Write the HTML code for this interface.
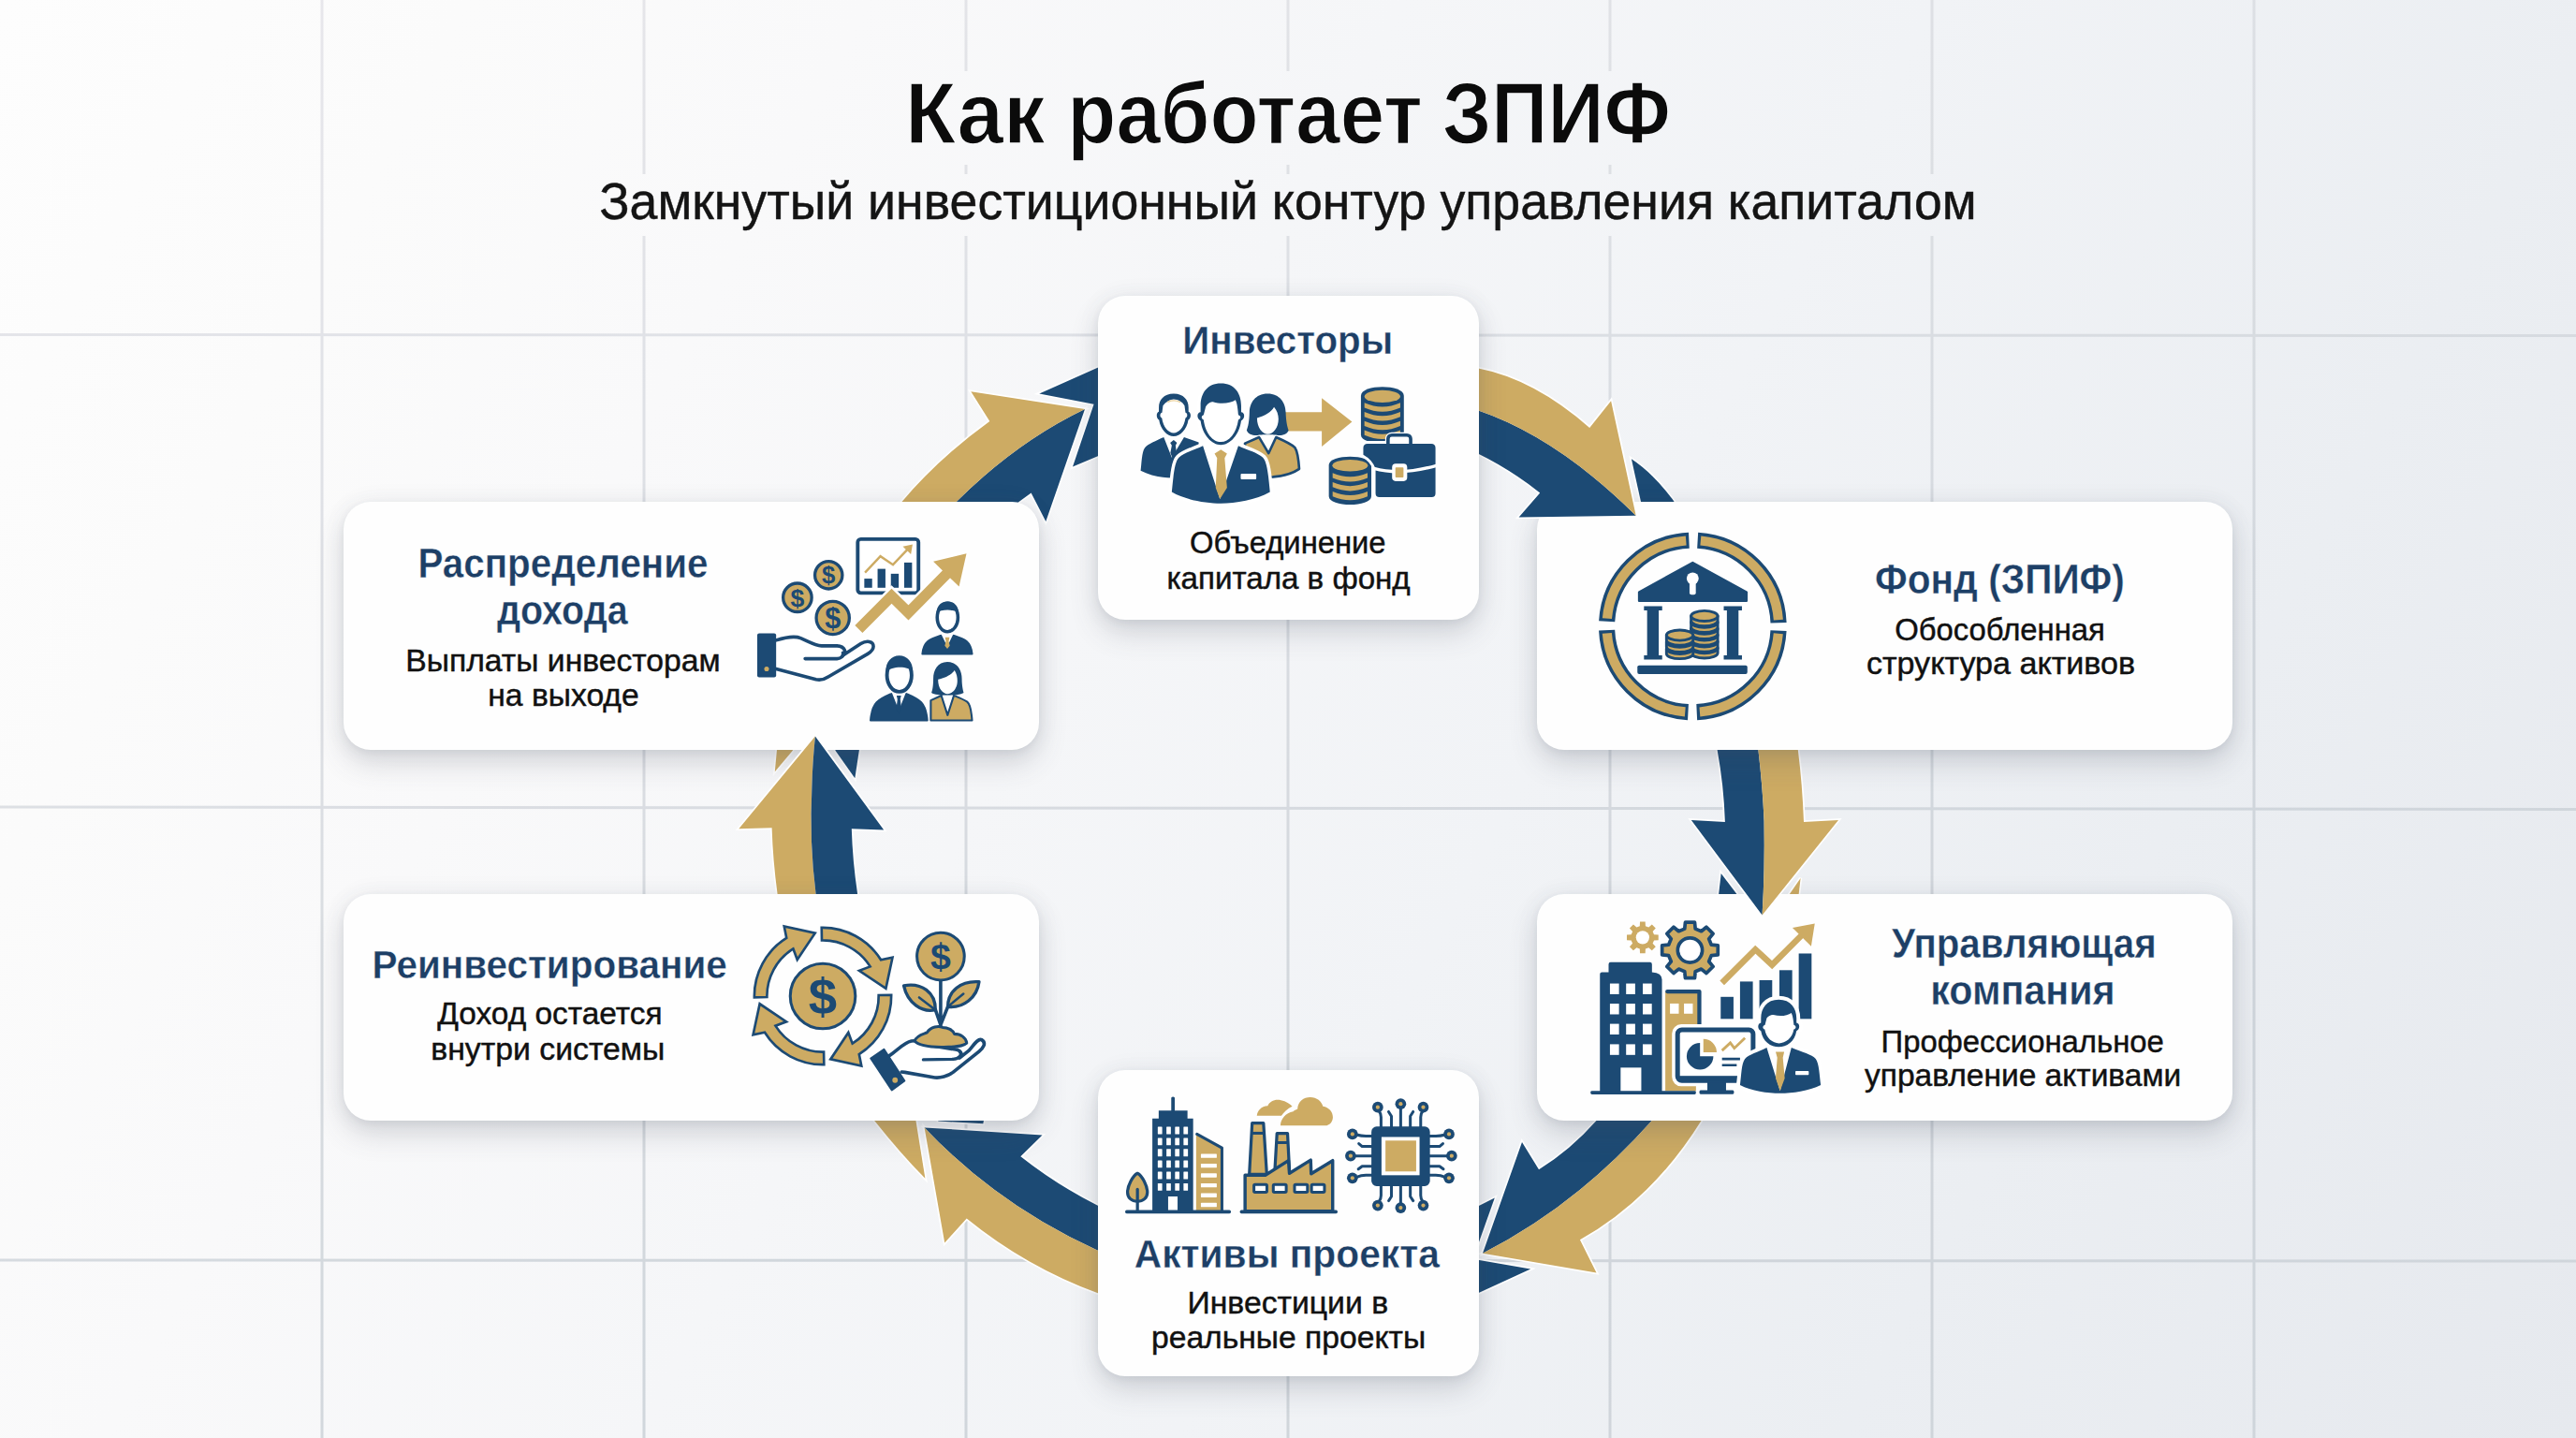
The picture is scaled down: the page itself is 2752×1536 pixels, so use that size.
<!DOCTYPE html>
<html lang="ru">
<head>
<meta charset="utf-8">
<title>Как работает ЗПИФ</title>
<style>
html,body{margin:0;padding:0;}
body{width:2752px;height:1536px;overflow:hidden;background:#f3f5f8;font-family:"Liberation Sans",sans-serif;}
#stage{position:relative;width:2752px;height:1536px;overflow:hidden;
  background:linear-gradient(118deg,#fdfdfd 0%,#fbfbfb 14%,#f9f9fa 26%,#f5f6f8 42%,#f1f3f6 58%,#ebeef2 78%,#e6e9ee 100%);}
.layer{position:absolute;left:0;top:0;width:2752px;height:1536px;pointer-events:none;overflow:visible;}
.card{position:absolute;background:#fefefe;border-radius:29px;
  box-shadow:0 15px 30px rgba(75,80,95,0.19),0 3px 8px rgba(75,80,95,0.07),0 0 26px rgba(75,80,95,0.06);}
svg text{font-family:"Liberation Sans",sans-serif;}
</style>
</head>
<body>
<div id="stage">

<!-- background grid -->
<svg class="layer" style="z-index:0" width="2752" height="1536" viewBox="0 0 2752 1536">
  <defs><linearGradient id="gl" gradientUnits="userSpaceOnUse" x1="0" y1="0" x2="500" y2="1536"><stop offset="0" stop-color="#e7e6eb"/><stop offset="0.5" stop-color="#dadde2"/><stop offset="1" stop-color="#cdd3d9"/></linearGradient></defs>
  <g stroke="url(#gl)" stroke-width="3" opacity="0.9" fill="none">
    <path d="M344 0V1536M2408 0V1536"/>
    <path d="M688 0V186M688 252V1536M2064 0V186M2064 252V1536"/>
    <path d="M1032 0V76M1032 176V186M1032 252V1536"/>
    <path d="M1376 0V76M1376 176V186M1376 252V1536"/>
    <path d="M1720 0V76M1720 176V186M1720 252V1536"/>
    <path d="M0 357.5L2752 358.5M0 862L2752 864.5M0 1346L2752 1347"/>
  </g>
</svg>

<svg class="layer" style="z-index:1" width="2752" height="1536" viewBox="0 0 2752 1536">
<g fill="#ffffff" stroke="#ffffff" stroke-width="3.4" stroke-linejoin="miter">
<path d="M1110.3 420.4L1190 385L1190 480L1146 498.6L1168.6 431.7Z"/>
</g><g>
<path fill="#1c4a74" d="M1110.3 420.4L1190 385L1190 480L1146 498.6L1168.6 431.7Z"/>
</g>
<g fill="#ffffff" stroke="#ffffff" stroke-width="3.4" stroke-linejoin="miter">
<path d="M1159 437L1117.3 556.9L1101.6 526.4L1072 548L1000 560L1021.7 536Q1086 472 1159 437Z"/>
<path d="M963.5 536Q1002 490 1057.3 450L1037.3 418.3L1159 437Q1086 472 1021.7 536L1000 560L945 560Z"/>
</g><g>
<path fill="#1c4a74" d="M1159 437L1117.3 556.9L1101.6 526.4L1072 548L1000 560L1021.7 536Q1086 472 1159 437Z"/>
<path fill="#cdab63" d="M963.5 536Q1002 490 1057.3 450L1037.3 418.3L1159 437Q1086 472 1021.7 536L1000 560L945 560Z"/>
</g>
<g fill="#ffffff" stroke="#ffffff" stroke-width="3.4" stroke-linejoin="miter">
<path d="M1596.8 1279.5L1560 1298L1560 1383Z"/>
</g><g>
<path fill="#1c4a74" d="M1596.8 1279.5L1560 1298L1560 1383Z"/>
</g>
<g fill="#ffffff" stroke="#ffffff" stroke-width="3.4" stroke-linejoin="miter">
<path d="M1560 1342.5L1635.2 1355.5L1560 1390Z"/>
</g><g>
<path fill="#1c4a74" d="M1560 1342.5L1635.2 1355.5L1560 1390Z"/>
</g>
<g fill="#ffffff" stroke="#ffffff" stroke-width="3.4" stroke-linejoin="miter">
<path d="M1716 1185L1705.5 1197Q1677.2 1228.9 1644 1249.2L1626 1219.9L1584 1338.7Q1683.9 1288 1764.7 1197L1775 1185Z"/>
<path d="M1775 1185L1764.7 1197Q1683.9 1288 1584 1338.7L1705.5 1359.5L1687.9 1324.3Q1765.5 1280.7 1817.5 1197L1824 1185Z"/>
</g><g>
<path fill="#1c4a74" d="M1716 1185L1705.5 1197Q1677.2 1228.9 1644 1249.2L1626 1219.9L1584 1338.7Q1683.9 1288 1764.7 1197L1775 1185Z"/>
<path fill="#cdab63" d="M1775 1185L1764.7 1197Q1683.9 1288 1584 1338.7L1705.5 1359.5L1687.9 1324.3Q1765.5 1280.7 1817.5 1197L1824 1185Z"/>
</g>
<g fill="#ffffff" stroke="#ffffff" stroke-width="3.4" stroke-linejoin="miter">
<path d="M925 1185L976.5 1185L988.4 1258.8Q962 1232 934.4 1197.2Z"/>
</g><g>
<path fill="#cdab63" d="M925 1185L976.5 1185L988.4 1258.8Q962 1232 934.4 1197.2Z"/>
</g>
<g fill="#ffffff" stroke="#ffffff" stroke-width="3.4" stroke-linejoin="miter">
<path d="M1002 1192L1052 1192L1050.3 1200.2L1002.3 1197.5Z"/>
</g><g>
<path fill="#1c4a74" d="M1002 1192L1052 1192L1050.3 1200.2L1002.3 1197.5Z"/>
</g>
<g fill="#ffffff" stroke="#ffffff" stroke-width="3.4" stroke-linejoin="miter">
<path d="M1195 1298L1172.3 1287.5Q1128.6 1265.4 1090.3 1235.2L1113.5 1212.4L987.6 1204.4Q1065.4 1286.9 1172.3 1335.5L1195 1345Z"/>
<path d="M987.6 1204.4L1009.2 1327.5L1032.7 1301.5Q1095.7 1352.8 1172.3 1381.1L1195 1389L1195 1345L1172.3 1335.5Q1065.4 1286.9 987.6 1204.4Z"/>
</g><g>
<path fill="#1c4a74" d="M1195 1298L1172.3 1287.5Q1128.6 1265.4 1090.3 1235.2L1113.5 1212.4L987.6 1204.4Q1065.4 1286.9 1172.3 1335.5L1195 1345Z"/>
<path fill="#cdab63" d="M987.6 1204.4L1009.2 1327.5L1032.7 1301.5Q1095.7 1352.8 1172.3 1381.1L1195 1389L1195 1345L1172.3 1335.5Q1065.4 1286.9 987.6 1204.4Z"/>
</g>
<g fill="#ffffff" stroke="#ffffff" stroke-width="3.4" stroke-linejoin="miter">
<path d="M831 790L848.5 790L846.8 801.7L827.8 824.2Z"/>
</g><g>
<path fill="#cdab63" d="M831 790L848.5 790L846.8 801.7L827.8 824.2Z"/>
</g>
<g fill="#ffffff" stroke="#ffffff" stroke-width="3.4" stroke-linejoin="miter">
<path d="M891 790L919 790L917.8 801.7L913.3 831.2L892.5 801.7Z"/>
</g><g>
<path fill="#1c4a74" d="M891 790L919 790L917.8 801.7L913.3 831.2L892.5 801.7Z"/>
</g>
<g fill="#ffffff" stroke="#ffffff" stroke-width="3.4" stroke-linejoin="miter">
<path d="M1838.7 933L1835 965L1863 965Z"/>
</g><g>
<path fill="#1c4a74" d="M1838.7 933L1835 965L1863 965Z"/>
</g>
<g fill="#ffffff" stroke="#ffffff" stroke-width="3.4" stroke-linejoin="miter">
<path d="M1923.6 937.9L1920.5 965L1905 965Z"/>
</g><g>
<path fill="#cdab63" d="M1923.6 937.9L1920.5 965L1905 965Z"/>
</g>
<g fill="#ffffff" stroke="#ffffff" stroke-width="3.4" stroke-linejoin="miter">
<path d="M1742.9 490.3Q1770 508 1795 545L1755 545Z"/>
</g><g>
<path fill="#1c4a74" d="M1742.9 490.3Q1770 508 1795 545L1755 545Z"/>
</g>
</svg>
<svg class="layer" style="z-index:3" width="2752" height="1536" viewBox="0 0 2752 1536">
<g fill="#ffffff" stroke="#ffffff" stroke-width="3.4" stroke-linejoin="miter">
<path d="M1833.5 785L1834.6 801Q1841.5 838 1842.9 878L1806.8 876L1882.6 977.5Q1885.5 930 1884.6 877Q1883 840 1878.4 801L1877 785Z"/>
<path d="M1877 785L1878.4 801Q1883 840 1884.6 877Q1885.5 930 1882.6 977.5L1964 876L1927 878Q1925.5 838 1920.8 801L1919 785Z"/>
</g><g>
<path fill="#1c4a74" d="M1833.5 785L1834.6 801Q1841.5 838 1842.9 878L1806.8 876L1882.6 977.5Q1885.5 930 1884.6 877Q1883 840 1878.4 801L1877 785Z"/>
<path fill="#cdab63" d="M1877 785L1878.4 801Q1883 840 1884.6 877Q1885.5 930 1882.6 977.5L1964 876L1927 878Q1925.5 838 1920.8 801L1919 785Z"/>
</g>
<g fill="#ffffff" stroke="#ffffff" stroke-width="3.4" stroke-linejoin="miter">
<path d="M870.9 786.4L789.3 885.2L824.6 884.3Q825.7 919.2 830.6 955L832 970L873 970L871.6 955Q864.5 900 867.4 839.5Q868 815 870.9 786.4Z"/>
<path d="M870.9 786.4Q868 815 867.4 839.5Q864.5 900 871.6 955L873 970L918 970L916.1 955Q910.8 919.2 909.8 885.2L944.2 886.5Z"/>
</g><g>
<path fill="#cdab63" d="M870.9 786.4L789.3 885.2L824.6 884.3Q825.7 919.2 830.6 955L832 970L873 970L871.6 955Q864.5 900 867.4 839.5Q868 815 870.9 786.4Z"/>
<path fill="#1c4a74" d="M870.9 786.4Q868 815 867.4 839.5Q864.5 900 871.6 955L873 970L918 970L916.1 955Q910.8 919.2 909.8 885.2L944.2 886.5Z"/>
</g>
</svg>
<svg class="layer" style="z-index:5" width="2752" height="1536" viewBox="0 0 2752 1536">
<g fill="#ffffff" stroke="#ffffff" stroke-width="3.4" stroke-linejoin="miter">
<path d="M1560 430L1579.4 438.6Q1663.5 467.3 1747.7 550.8L1622.6 552.5L1645.2 526.4Q1613 501 1579.4 484.7L1560 476Z"/>
<path d="M1560 386L1579.4 393.5Q1639 405 1698.2 456.9L1721.1 428.2L1747.7 550.8Q1663.5 467.3 1579.4 438.6L1560 430Z"/>
</g><g>
<path fill="#1c4a74" d="M1560 430L1579.4 438.6Q1663.5 467.3 1747.7 550.8L1622.6 552.5L1645.2 526.4Q1613 501 1579.4 484.7L1560 476Z"/>
<path fill="#cdab63" d="M1560 386L1579.4 393.5Q1639 405 1698.2 456.9L1721.1 428.2L1747.7 550.8Q1663.5 467.3 1579.4 438.6L1560 430Z"/>
</g>
</svg>
<!-- cards -->
<div class="card" style="z-index:6;left:1173px;top:316px;width:406.5px;height:346px;"></div>
<div class="card" style="z-index:4;left:1642px;top:536px;width:743px;height:265px;"></div>
<div class="card" style="z-index:2;left:1642px;top:955px;width:743px;height:242px;"></div>
<div class="card" style="z-index:2;left:1172.5px;top:1143px;width:407px;height:327px;"></div>
<div class="card" style="z-index:4;left:367px;top:955px;width:743px;height:242px;"></div>
<div class="card" style="z-index:2;left:367px;top:536px;width:743px;height:265px;"></div>

<svg class="layer" style="z-index:8" width="2752" height="1536" viewBox="0 0 2752 1536">
<defs><linearGradient id="bgx" gradientUnits="userSpaceOnUse" x1="0" y1="0" x2="2752" y2="0"><stop offset="0" stop-color="#fcfcfc"/><stop offset="0.35" stop-color="#f8f9fa"/><stop offset="0.65" stop-color="#f3f4f7"/><stop offset="1" stop-color="#eceff3"/></linearGradient></defs>
<text id="t0" y="152.8" font-size="92.5" font-weight="bold" fill="#0b0b0b" stroke="url(#bgx)" stroke-width="1.5"><tspan x="967.1" textLength="149.6" lengthAdjust="spacingAndGlyphs">Как</tspan> <tspan x="1140.3" textLength="379.6" lengthAdjust="spacingAndGlyphs">работает</tspan> <tspan x="1541.0" textLength="243.8" lengthAdjust="spacingAndGlyphs">ЗПИФ</tspan></text>
<text id="t1" x="640.2" y="233.6" font-size="55" font-weight="normal" fill="#141414" stroke="#141414" stroke-width="0.45" textLength="1471.5" lengthAdjust="spacingAndGlyphs">Замкнутый инвестиционный контур управления капиталом</text>
<text id="t2" x="1263.3" y="377.7" font-size="43" font-weight="bold" fill="#1d3f66" stroke="#fefefe" stroke-width="0.35" textLength="224.8" lengthAdjust="spacingAndGlyphs">Инвесторы</text>
<text id="t3" x="1271.1" y="591.0" font-size="33" font-weight="normal" fill="#111" stroke="#111" stroke-width="0.45" textLength="209.5" lengthAdjust="spacingAndGlyphs">Объединение</text>
<text id="t4" x="1246.4" y="628.9" font-size="33" font-weight="normal" fill="#111" stroke="#111" stroke-width="0.45" textLength="260.3" lengthAdjust="spacingAndGlyphs">капитала в фонд</text>
<text id="t5" x="2003.1" y="633.5" font-size="43.5" font-weight="bold" fill="#1d3f66" stroke="#fefefe" stroke-width="0.35" textLength="266.7" lengthAdjust="spacingAndGlyphs">Фонд (ЗПИФ)</text>
<text id="t6" x="2024.3" y="683.8" font-size="33" font-weight="normal" fill="#111" stroke="#111" stroke-width="0.45" textLength="224.5" lengthAdjust="spacingAndGlyphs">Обособленная</text>
<text id="t7" x="1993.9" y="720.4" font-size="33" font-weight="normal" fill="#111" stroke="#111" stroke-width="0.45" textLength="287.2" lengthAdjust="spacingAndGlyphs">структура активов</text>
<text id="t8" x="2020.9" y="1023.1" font-size="43.5" font-weight="bold" fill="#1d3f66" stroke="#fefefe" stroke-width="0.35" textLength="282.8" lengthAdjust="spacingAndGlyphs">Управляющая</text>
<text id="t9" x="2062.2" y="1073.4" font-size="43.5" font-weight="bold" fill="#1d3f66" stroke="#fefefe" stroke-width="0.35" textLength="197.4" lengthAdjust="spacingAndGlyphs">компания</text>
<text id="t10" x="2009.6" y="1123.7" font-size="33" font-weight="normal" fill="#111" stroke="#111" stroke-width="0.45" textLength="302.2" lengthAdjust="spacingAndGlyphs">Профессиональное</text>
<text id="t11" x="1992.0" y="1160.3" font-size="33" font-weight="normal" fill="#111" stroke="#111" stroke-width="0.45" textLength="338.2" lengthAdjust="spacingAndGlyphs">управление активами</text>
<text id="t12" x="1211.8" y="1354.2" font-size="43" font-weight="bold" fill="#1d3f66" stroke="#fefefe" stroke-width="0.35" textLength="326.0" lengthAdjust="spacingAndGlyphs">Активы проекта</text>
<text id="t13" x="1268.5" y="1403.1" font-size="33" font-weight="normal" fill="#111" stroke="#111" stroke-width="0.45" textLength="214.6" lengthAdjust="spacingAndGlyphs">Инвестиции в</text>
<text id="t14" x="1230.0" y="1439.8" font-size="33" font-weight="normal" fill="#111" stroke="#111" stroke-width="0.45" textLength="293.1" lengthAdjust="spacingAndGlyphs">реальные проекты</text>
<text id="t15" x="397.4" y="1045.0" font-size="43" font-weight="bold" fill="#1d3f66" stroke="#fefefe" stroke-width="0.35" textLength="379.5" lengthAdjust="spacingAndGlyphs">Реинвестирование</text>
<text id="t16" x="467.3" y="1094.4" font-size="33" font-weight="normal" fill="#111" stroke="#111" stroke-width="0.45" textLength="240.2" lengthAdjust="spacingAndGlyphs">Доход остается</text>
<text id="t17" x="460.2" y="1132.0" font-size="33" font-weight="normal" fill="#111" stroke="#111" stroke-width="0.45" textLength="250.2" lengthAdjust="spacingAndGlyphs">внутри системы</text>
<text id="t18" x="446.4" y="616.9" font-size="43.5" font-weight="bold" fill="#1d3f66" stroke="#fefefe" stroke-width="0.35" textLength="310.1" lengthAdjust="spacingAndGlyphs">Распределение</text>
<text id="t19" x="530.9" y="667.1" font-size="43.5" font-weight="bold" fill="#1d3f66" stroke="#fefefe" stroke-width="0.35" textLength="139.8" lengthAdjust="spacingAndGlyphs">дохода</text>
<text id="t20" x="433.3" y="716.7" font-size="33" font-weight="normal" fill="#111" stroke="#111" stroke-width="0.45" textLength="336.4" lengthAdjust="spacingAndGlyphs">Выплаты инвесторам</text>
<text id="t21" x="521.3" y="754.3" font-size="33" font-weight="normal" fill="#111" stroke="#111" stroke-width="0.45" textLength="161.4" lengthAdjust="spacingAndGlyphs">на выходе</text>
</svg>
<!-- card 1 icons: investors -> capital -->
<svg class="layer" style="z-index:8" width="2752" height="1536" viewBox="0 0 2752 1536">
  <!-- gold arrow -->
  <path fill="#cdab63" d="M1371 440.3H1412.1V425.2L1444.4 450.4L1412.1 477.1V460.5H1371Z"/>
  <!-- people group (authored in 9.916x zoom coords) -->
  <g transform="translate(1210 400) scale(0.10085)">
    <!-- left man -->
    <path fill="#1c4a74" d="M330 665C250 700 160 740 130 775C95 820 95 950 85 1020C180 1070 300 1095 420 1095L700 1095L700 720L545 665L415 880Z"/>
    <path fill="#1c4a74" d="M435 695L470 725L455 750L465 830L420 880L400 830L415 750L398 725Z"/>
    <path fill="#1c4a74" d="M435 203C540 203 592 270 592 350L592 395C622 400 622 470 590 480C575 580 505 655 435 655C365 655 295 580 280 480C248 470 248 400 278 395L278 350C278 270 330 203 435 203Z"/>
    <path fill="#ffffff" d="M312 405L322 330C350 290 400 262 435 262C480 262 530 290 550 330L560 405C585 410 585 455 560 462C545 560 490 620 435 620C380 620 325 560 310 462C285 455 287 410 312 405Z"/>
    <path fill="none" stroke="#e7cf9a" stroke-width="14" stroke-linecap="round" d="M375 290Q440 262 500 292"/>
    <!-- woman -->
    <path fill="#cdab63" stroke="#1c4a74" stroke-width="26" stroke-linejoin="round" d="M1340 665L1190 730L1190 1095L1490 1085C1600 1075 1700 1045 1765 1000C1758 900 1748 815 1720 775C1680 735 1600 700 1520 665L1440 835Z"/>
    <path fill="#1c4a74" d="M1430 203C1560 203 1620 300 1622 400C1625 500 1640 560 1652 590C1640 640 1560 655 1520 640L1340 640C1300 655 1222 640 1208 590C1222 560 1236 500 1238 400C1240 300 1300 203 1430 203Z"/>
    <path fill="#ffffff" d="M1318 460C1400 440 1470 400 1498 345C1530 380 1545 430 1545 470C1545 560 1490 632 1432 632C1375 632 1318 560 1318 460Z"/>
    <path fill="#ffffff" d="M1372 640L1492 640L1440 790Z"/>
    <!-- main man -->
    <g stroke="#ffffff" stroke-width="70" stroke-linejoin="round">
      <path fill="#ffffff" d="M745 755C650 800 540 830 490 880C440 930 430 1100 415 1245C560 1330 780 1365 935 1365C1090 1365 1310 1330 1455 1245C1440 1100 1430 930 1380 880C1330 830 1220 800 1120 755Z"/>
      <path fill="#ffffff" d="M935 95C1080 95 1150 200 1150 330L1150 400C1190 400 1195 470 1150 490C1130 640 1030 745 935 745C840 745 740 640 720 490C675 470 680 400 720 400L720 330C720 200 790 95 935 95Z"/>
    </g>
    <path fill="#1c4a74" d="M745 755C650 800 540 830 490 880C440 930 430 1100 415 1245C560 1330 780 1365 935 1365C1090 1365 1310 1330 1455 1245C1440 1100 1430 930 1380 880C1330 830 1220 800 1120 755L925 1320Z"/>
    <path fill="#cdab63" d="M935 795L1000 838L975 885L1000 1200L925 1320L880 1200L895 885L868 838Z"/>
    <rect x="1145" y="1050" width="165" height="60" rx="10" fill="#ffffff"/>
    <path fill="#1c4a74" d="M935 95C1080 95 1150 200 1150 330L1150 400C1190 400 1195 470 1150 490C1130 640 1030 745 935 745C840 745 740 640 720 490C675 470 680 400 720 400L720 330C720 200 790 95 935 95Z"/>
    <path fill="#ffffff" d="M752 430L775 340C800 300 830 290 850 290C950 320 1040 300 1090 270C1110 310 1115 380 1120 430C1150 440 1150 470 1120 480C1100 620 1020 715 935 715C850 715 770 620 752 480C725 470 725 440 752 430Z"/>
  </g>
  <!-- coins + briefcase (authored in 9.92x zoom coords) -->
  <g transform="translate(1400 400) scale(0.1008)">
    <!-- top coin stack -->
    <path fill="#1c4a74" d="M535 225C535 100 990 100 990 225L990 640C990 760 535 760 535 640Z"/>
    <ellipse cx="762" cy="232" rx="190" ry="66" fill="#cdab63"/>
    <path fill="#cdab63" d="M572 300Q762 385 952 300L952 352Q762 437 572 352Z"/>
    <path fill="#cdab63" d="M572 397Q762 482 952 397L952 449Q762 534 572 449Z"/>
    <path fill="#cdab63" d="M572 494Q762 579 952 494L952 546Q762 631 572 546Z"/>
    <path fill="#cdab63" d="M572 591Q762 676 952 591L952 643Q762 728 572 643Z"/>
    <!-- bottom coin stack -->
    <path fill="#1c4a74" d="M195 960C195 840 645 840 645 960L645 1290C645 1410 195 1410 195 1290Z"/>
    <ellipse cx="420" cy="965" rx="188" ry="62" fill="#cdab63"/>
    <path fill="#cdab63" d="M235 1045Q420 1125 605 1045L605 1097Q420 1177 235 1097Z"/>
    <path fill="#cdab63" d="M235 1142Q420 1222 605 1142L605 1194Q420 1274 235 1194Z"/>
    <path fill="#cdab63" d="M235 1239Q420 1319 605 1239L605 1291Q420 1371 235 1291Z"/>
    <!-- briefcase -->
    <g stroke="#ffffff" stroke-width="60" stroke-linejoin="round" fill="#ffffff">
      <path d="M605 735L1280 735Q1325 735 1325 780L1325 1260Q1325 1300 1285 1300L730 1300Q690 1300 690 1260L690 1000Q660 905 560 850L560 780Q560 735 605 735Z"/>
      <rect x="822" y="642" width="240" height="120" rx="40"/>
    </g>
    <rect x="822" y="642" width="240" height="140" rx="40" fill="none" stroke="#1c4a74" stroke-width="36"/>
    <path fill="#1c4a74" d="M605 735L1280 735Q1325 735 1325 780L1325 1260Q1325 1300 1285 1300L730 1300Q690 1300 690 1260L690 1000Q660 905 560 850L560 780Q560 735 605 735Z"/>
    <path fill="none" stroke="#ffffff" stroke-width="34" d="M672 995Q960 1075 1335 965"/>
    <rect x="865" y="945" width="160" height="185" rx="38" fill="#ffffff"/>
    <rect x="900" y="985" width="86" height="106" rx="8" fill="#cdab63"/>
  </g>
</svg>

<!-- card 2 icon: fund (bank in ring) -->
<svg class="layer" style="z-index:8" width="2752" height="1536" viewBox="0 0 2752 1536">
<g transform="translate(1700 560) scale(0.153)">
<circle cx="708" cy="712" r="600" fill="none" stroke="#1c4a74" stroke-width="112" stroke-dasharray="880.5 62" stroke-dashoffset="-31.0"/>
<circle cx="708" cy="712" r="600" fill="none" stroke="#cdab63" stroke-width="66" stroke-dasharray="838.5 104" stroke-dashoffset="-52.0"/>
<path fill="#1c4a74" stroke="#1c4a74" stroke-width="16" stroke-linejoin="round" d="M708 268L1084 474L1084 534L334 534L334 474Z"/>
<circle cx="708" cy="378" r="42" fill="#fff"/><rect x="686" y="378" width="44" height="114" rx="14" fill="#fff"/>
<path fill="#1c4a74" d="M368 572H495V602H471V915H495V945H368V915H390V602H368Z"/>
<path fill="#1c4a74" d="M925 572H1052V602H1028V915H1052V945H925V915H947V602H925Z"/>
<rect x="322" y="985" width="768" height="60" rx="12" fill="#1c4a74"/>
<path fill="#cdab63" stroke="#1c4a74" stroke-width="19" stroke-linejoin="round" d="M697 865L697 899A93 36 0 0 0 883 899L883 865Z"/><ellipse cx="790" cy="865" rx="93" ry="36" fill="#cdab63" stroke="#1c4a74" stroke-width="19"/>
<path fill="#cdab63" stroke="#1c4a74" stroke-width="19" stroke-linejoin="round" d="M697 820L697 854A93 36 0 0 0 883 854L883 820Z"/><ellipse cx="790" cy="820" rx="93" ry="36" fill="#cdab63" stroke="#1c4a74" stroke-width="19"/>
<path fill="#cdab63" stroke="#1c4a74" stroke-width="19" stroke-linejoin="round" d="M697 775L697 809A93 36 0 0 0 883 809L883 775Z"/><ellipse cx="790" cy="775" rx="93" ry="36" fill="#cdab63" stroke="#1c4a74" stroke-width="19"/>
<path fill="#cdab63" stroke="#1c4a74" stroke-width="19" stroke-linejoin="round" d="M697 730L697 764A93 36 0 0 0 883 764L883 730Z"/><ellipse cx="790" cy="730" rx="93" ry="36" fill="#cdab63" stroke="#1c4a74" stroke-width="19"/>
<path fill="#cdab63" stroke="#1c4a74" stroke-width="19" stroke-linejoin="round" d="M697 685L697 719A93 36 0 0 0 883 719L883 685Z"/><ellipse cx="790" cy="685" rx="93" ry="36" fill="#cdab63" stroke="#1c4a74" stroke-width="19"/>
<path fill="#cdab63" stroke="#1c4a74" stroke-width="19" stroke-linejoin="round" d="M697 640L697 674A93 36 0 0 0 883 674L883 640Z"/><ellipse cx="790" cy="640" rx="93" ry="36" fill="#cdab63" stroke="#1c4a74" stroke-width="19"/>
<path fill="#cdab63" stroke="#1c4a74" stroke-width="19" stroke-linejoin="round" d="M525 869L525 903A93 36 0 0 0 711 903L711 869Z"/><ellipse cx="618" cy="869" rx="93" ry="36" fill="#cdab63" stroke="#1c4a74" stroke-width="19"/>
<path fill="#cdab63" stroke="#1c4a74" stroke-width="19" stroke-linejoin="round" d="M525 822L525 856A93 36 0 0 0 711 856L711 822Z"/><ellipse cx="618" cy="822" rx="93" ry="36" fill="#cdab63" stroke="#1c4a74" stroke-width="19"/>
<path fill="#cdab63" stroke="#1c4a74" stroke-width="19" stroke-linejoin="round" d="M525 775L525 809A93 36 0 0 0 711 809L711 775Z"/><ellipse cx="618" cy="775" rx="93" ry="36" fill="#cdab63" stroke="#1c4a74" stroke-width="19"/>
</g></svg>
<!-- card 3 icon: management company -->
<svg class="layer" style="z-index:8" width="2752" height="1536" viewBox="0 0 2752 1536">
<g transform="translate(1690 975) scale(0.14255)">
<path fill="#cdab63" d="M540.4 163.6L573.3 165.1L573.3 204.9L540.4 206.4L530.5 230.2L552.8 254.6L524.6 282.8L500.2 260.5L476.4 270.4L474.9 303.3L435.1 303.3L433.6 270.4L409.8 260.5L385.4 282.8L357.2 254.6L379.5 230.2L369.6 206.4L336.7 204.9L336.7 165.1L369.6 163.6L379.5 139.8L357.2 115.4L385.4 87.2L409.8 109.5L433.6 99.6L435.1 66.7L474.9 66.7L476.4 99.6L500.2 109.5L524.6 87.2L552.8 115.4L530.5 139.8Z"/><circle cx="455" cy="185" r="50" fill="#fff"/>
<path fill="#cdab63" d="M970.1 239.9L1019.1 244.8L1019.1 315.2L970.1 320.1L951.5 364.8L982.7 402.9L932.9 452.7L894.8 421.5L850.1 440.1L845.2 489.1L774.8 489.1L769.9 440.1L725.2 421.5L687.1 452.7L637.3 402.9L668.5 364.8L649.9 320.1L600.9 315.2L600.9 244.8L649.9 239.9L668.5 195.2L637.3 157.1L687.1 107.3L725.2 138.5L769.9 119.9L774.8 70.9L845.2 70.9L850.1 119.9L894.8 138.5L932.9 107.3L982.7 157.1L951.5 195.2Z" stroke="#1c4a74" stroke-width="26" stroke-linejoin="round"/><circle cx="810" cy="280" r="92" fill="#fff" stroke="#1c4a74" stroke-width="26"/>
<rect x="625" y="590" width="255" height="745" fill="#cdab63"/>
<path fill="none" stroke="#1c4a74" stroke-width="30" stroke-linejoin="round" stroke-linecap="round" d="M640 590H880V1335"/>
<rect x="660" y="680" width="66" height="76" fill="#fff"/><rect x="765" y="680" width="66" height="76" fill="#fff"/>
<path fill="#1c4a74" d="M135 1340V460Q135 445 150 445H200V385Q200 370 215 370H510Q525 370 525 385V445Q600 450 600 500V1340Z"/>
<rect x="210" y="530" width="68" height="80" fill="#fff"/>
<rect x="210" y="681" width="68" height="80" fill="#fff"/>
<rect x="210" y="832" width="68" height="80" fill="#fff"/>
<rect x="210" y="985" width="68" height="80" fill="#fff"/>
<rect x="331" y="530" width="68" height="80" fill="#fff"/>
<rect x="331" y="681" width="68" height="80" fill="#fff"/>
<rect x="331" y="832" width="68" height="80" fill="#fff"/>
<rect x="331" y="985" width="68" height="80" fill="#fff"/>
<rect x="456" y="530" width="68" height="80" fill="#fff"/>
<rect x="456" y="681" width="68" height="80" fill="#fff"/>
<rect x="456" y="832" width="68" height="80" fill="#fff"/>
<rect x="456" y="985" width="68" height="80" fill="#fff"/>
<rect x="290" y="1160" width="155" height="180" fill="#fff"/>
<rect x="65" y="1334" width="790" height="27" rx="10" fill="#1c4a74"/>
<rect x="1040" y="630" width="96" height="165" fill="#1c4a74"/>
<rect x="1185" y="515" width="96" height="280" fill="#1c4a74"/>
<rect x="1330" y="505" width="96" height="290" fill="#1c4a74"/>
<rect x="1480" y="430" width="96" height="365" fill="#1c4a74"/>
<rect x="1625" y="305" width="96" height="490" fill="#1c4a74"/>
<path fill="none" stroke="#cdab63" stroke-width="46" stroke-linejoin="miter" d="M1050 525L1300 275L1425 390L1650 165"/>
<path fill="#cdab63" d="M1745 80L1578 112L1718 250Z"/>
<g stroke="#fff" stroke-width="50" fill="#fff" stroke-linejoin="round"><rect x="700" y="860" width="600" height="415" rx="45"/><rect x="880" y="1280" width="260" height="80"/></g>
<path fill="#1c4a74" d="M940 1270H1080V1330H1130Q1140 1330 1140 1345T1130 1360H890Q880 1360 880 1345T890 1330H940Z"/>
<rect x="717" y="877" width="566" height="381" rx="32" fill="#fff" stroke="#1c4a74" stroke-width="35"/>
<rect x="717" y="1222" width="566" height="36" fill="#1c4a74"/>
<path fill="#1c4a74" d="M885 1075V975A100 100 0 1 0 985 1075Z"/>
<path fill="#cdab63" d="M910 1045V945A100 100 0 0 1 1010 1045Z"/>
<path fill="none" stroke="#cdab63" stroke-width="20" d="M1050 1032L1112 975L1142 1015L1222 938"/>
<path fill="none" stroke="#1c4a74" stroke-width="18" d="M1050 1095H1185M1050 1142H1160"/>
<g stroke="#fff" stroke-width="56" fill="#fff" stroke-linejoin="round"><path d="M1385 1010C1320 1045 1250 1060 1222 1095C1195 1130 1195 1220 1185 1290C1270 1335 1390 1352 1485 1352C1580 1352 1700 1335 1790 1290C1780 1220 1778 1130 1752 1095C1725 1060 1650 1045 1570 1010Z"/><path d="M1475 650C1565 650 1608 715 1608 790L1608 825C1635 828 1637 875 1608 885C1595 965 1535 1005 1475 1005C1415 1005 1355 965 1342 885C1313 875 1315 828 1342 825L1342 790C1342 715 1385 650 1475 650Z"/></g>
<path fill="#1c4a74" d="M1385 1010C1320 1045 1250 1060 1222 1095C1195 1130 1195 1220 1185 1290C1270 1335 1390 1352 1485 1352C1580 1352 1700 1335 1790 1290C1780 1220 1778 1130 1752 1095C1725 1060 1650 1045 1570 1010L1485 1335Z"/>
<path fill="#cdab63" d="M1452 1042H1516L1506 1085L1520 1240L1485 1335L1452 1240L1464 1085Z"/>
<rect x="1600" y="1185" width="100" height="30" rx="5" fill="#fff"/>
<path fill="#1c4a74" d="M1475 650C1565 650 1608 715 1608 790L1608 825C1635 828 1637 875 1608 885C1595 965 1535 1005 1475 1005C1415 1005 1355 965 1342 885C1313 875 1315 828 1342 825L1342 790C1342 715 1385 650 1475 650Z"/>
<path fill="#fff" d="M1372 840L1385 790C1400 770 1420 762 1435 765C1490 780 1540 770 1570 750C1582 775 1585 810 1588 840C1608 846 1608 868 1588 874C1578 940 1525 978 1477 978C1430 978 1380 940 1370 874C1352 868 1352 846 1372 840Z"/>
</g></svg>
<!-- card 4 icons: buildings, factory, chip -->
<svg class="layer" style="z-index:8" width="2752" height="1536" viewBox="0 0 2752 1536">
<g transform="translate(1195 1160) scale(0.10085)">
<path fill="#cdab63" stroke="#1c4a74" stroke-width="32" stroke-linejoin="round" d="M200 925C250 950 305 1060 305 1125C305 1185 260 1222 200 1222C140 1222 95 1185 95 1125C95 1060 150 950 200 925Z"/>
<path stroke="#1c4a74" stroke-width="32" stroke-linecap="round" d="M200 1095V1320"/>
<path fill="#cdab63" d="M822 505L1100 650V1320H822Z"/>
<path fill="none" stroke="#1c4a74" stroke-width="30" stroke-linejoin="round" stroke-linecap="round" d="M830 510L1095 655V1320"/>
<rect x="872" y="718" width="168" height="44" rx="6" fill="#fff"/>
<rect x="872" y="822" width="168" height="44" rx="6" fill="#fff"/>
<rect x="872" y="925" width="168" height="44" rx="6" fill="#fff"/>
<rect x="872" y="1030" width="168" height="44" rx="6" fill="#fff"/>
<rect x="872" y="1135" width="168" height="44" rx="6" fill="#fff"/>
<rect x="872" y="1238" width="168" height="44" rx="6" fill="#fff"/>
<path fill="#1c4a74" d="M558 125Q576 105 595 125V260H730V345H790V1325H358V345H425V260H558Z"/>
<rect x="415" y="432" width="47" height="78" rx="5" fill="#fff"/>
<rect x="415" y="550" width="47" height="78" rx="5" fill="#fff"/>
<rect x="415" y="668" width="47" height="78" rx="5" fill="#fff"/>
<rect x="415" y="788" width="47" height="78" rx="5" fill="#fff"/>
<rect x="415" y="908" width="47" height="78" rx="5" fill="#fff"/>
<rect x="415" y="1030" width="47" height="78" rx="5" fill="#fff"/>
<rect x="507" y="432" width="47" height="78" rx="5" fill="#fff"/>
<rect x="507" y="550" width="47" height="78" rx="5" fill="#fff"/>
<rect x="507" y="668" width="47" height="78" rx="5" fill="#fff"/>
<rect x="507" y="788" width="47" height="78" rx="5" fill="#fff"/>
<rect x="507" y="908" width="47" height="78" rx="5" fill="#fff"/>
<rect x="507" y="1030" width="47" height="78" rx="5" fill="#fff"/>
<rect x="598" y="432" width="47" height="78" rx="5" fill="#fff"/>
<rect x="598" y="550" width="47" height="78" rx="5" fill="#fff"/>
<rect x="598" y="668" width="47" height="78" rx="5" fill="#fff"/>
<rect x="598" y="788" width="47" height="78" rx="5" fill="#fff"/>
<rect x="598" y="908" width="47" height="78" rx="5" fill="#fff"/>
<rect x="598" y="1030" width="47" height="78" rx="5" fill="#fff"/>
<rect x="688" y="432" width="47" height="78" rx="5" fill="#fff"/>
<rect x="688" y="550" width="47" height="78" rx="5" fill="#fff"/>
<rect x="688" y="668" width="47" height="78" rx="5" fill="#fff"/>
<rect x="688" y="788" width="47" height="78" rx="5" fill="#fff"/>
<rect x="688" y="908" width="47" height="78" rx="5" fill="#fff"/>
<rect x="688" y="1030" width="47" height="78" rx="5" fill="#fff"/>
<rect x="525" y="1170" width="100" height="155" fill="#fff"/>
<rect x="70" y="1315" width="1120" height="35" rx="16" fill="#1c4a74"/>
<path fill="#cdab63" stroke="#1c4a74" stroke-width="32" stroke-linejoin="round" d="M1385 935L1415 392H1535L1570 935Z"/>
<path stroke="#1c4a74" stroke-width="30" d="M1410 500H1540"/>
<path fill="#cdab63" stroke="#1c4a74" stroke-width="32" stroke-linejoin="round" d="M1655 900L1678 502H1790L1810 900Z"/>
<path stroke="#1c4a74" stroke-width="30" d="M1672 600H1796"/>
<path fill="#cdab63" stroke="#1c4a74" stroke-width="34" stroke-linejoin="round" d="M1340 1325V945H1555L1800 790L1810 925L2035 785L2040 930L2268 790V1325Z"/>
<rect x="1434" y="1044" width="137" height="82" rx="12" fill="#fff" stroke="#1c4a74" stroke-width="30"/>
<rect x="1639" y="1044" width="137" height="82" rx="12" fill="#fff" stroke="#1c4a74" stroke-width="30"/>
<rect x="1864" y="1044" width="137" height="82" rx="12" fill="#fff" stroke="#1c4a74" stroke-width="30"/>
<rect x="2044" y="1044" width="137" height="82" rx="12" fill="#fff" stroke="#1c4a74" stroke-width="30"/>
<rect x="1285" y="1315" width="1035" height="35" rx="16" fill="#1c4a74"/>
<path fill="#cdab63" d="M1465 315C1470 260 1510 215 1580 210C1600 160 1660 135 1720 150C1775 160 1815 190 1840 215C1790 240 1750 275 1725 315Z"/>
<path fill="#cdab63" d="M1715 420C1715 350 1770 285 1850 270C1870 250 1885 250 1895 245C1900 160 1960 118 2030 118C2100 118 2150 160 2165 215C2230 225 2270 275 2270 330C2270 380 2235 420 2190 420Z"/>
</g>
<g transform="translate(1430 1160) scale(0.10087)">
<g fill="none" stroke="#1c4a74" stroke-width="30" stroke-linecap="round" stroke-linejoin="round">
<path d="M450 440V330Q450 290 425 260M870 440V330Q870 290 895 260M658 440V230M560 440V320L530 272M760 440V320L790 272"/>
<path d="M450 1050V1160Q450 1200 425 1230M870 1050V1160Q870 1200 895 1230M658 1050V1250M560 1050V1170L532 1215M760 1050V1170L790 1215"/>
<path d="M360 530H290Q240 530 190 515M360 945H290Q240 945 190 965M360 740H170M360 640H250L215 610M360 850H250L210 880"/>
<path d="M960 530H1030Q1080 530 1130 515M960 945H1030Q1080 945 1130 965M960 740H1150M960 640H1070L1105 610M960 850H1070L1110 880"/>
</g>
<circle cx="415" cy="225" r="58" fill="#1c4a74"/><circle cx="415" cy="225" r="21" fill="#cdab63"/>
<circle cx="658" cy="190" r="58" fill="#1c4a74"/><circle cx="658" cy="190" r="21" fill="#cdab63"/>
<circle cx="897" cy="225" r="58" fill="#1c4a74"/><circle cx="897" cy="225" r="21" fill="#cdab63"/>
<circle cx="415" cy="1265" r="58" fill="#1c4a74"/><circle cx="415" cy="1265" r="21" fill="#cdab63"/>
<circle cx="658" cy="1290" r="58" fill="#1c4a74"/><circle cx="658" cy="1290" r="21" fill="#cdab63"/>
<circle cx="897" cy="1265" r="58" fill="#1c4a74"/><circle cx="897" cy="1265" r="21" fill="#cdab63"/>
<circle cx="147" cy="510" r="58" fill="#1c4a74"/><circle cx="147" cy="510" r="21" fill="#cdab63"/>
<circle cx="128" cy="740" r="58" fill="#1c4a74"/><circle cx="128" cy="740" r="21" fill="#cdab63"/>
<circle cx="147" cy="975" r="58" fill="#1c4a74"/><circle cx="147" cy="975" r="21" fill="#cdab63"/>
<circle cx="1170" cy="510" r="58" fill="#1c4a74"/><circle cx="1170" cy="510" r="21" fill="#cdab63"/>
<circle cx="1198" cy="740" r="58" fill="#1c4a74"/><circle cx="1198" cy="740" r="21" fill="#cdab63"/>
<circle cx="1170" cy="975" r="58" fill="#1c4a74"/><circle cx="1170" cy="975" r="21" fill="#cdab63"/>
<rect x="348" y="430" width="620" height="630" rx="55" fill="#1c4a74"/>
<rect x="455" y="540" width="403" height="405" fill="#fff"/>
<rect x="497" y="578" width="325" height="327" fill="#cdab63"/>
</g></svg>
<!-- card 5 icons: reinvest cycle + plant -->
<svg class="layer" style="z-index:8" width="2752" height="1536" viewBox="0 0 2752 1536">
<g transform="translate(790 975) scale(0.1391)">
<path fill="#cdab63" stroke="#1c4a74" stroke-width="19" stroke-linejoin="miter" d="M114.1 649.2A526 526 0 0 1 361.3 193.9L343.3 104.7L580.5 155.6L443.8 359.9L412.7 276.2A429 429 0 0 0 211.1 647.5Z"/>
<path fill="#cdab63" stroke="#1c4a74" stroke-width="19" stroke-linejoin="miter" d="M630.8 114.1A526 526 0 0 1 1086.1 361.3L1175.3 343.3L1124.4 580.5L920.1 443.8L1003.8 412.7A429 429 0 0 0 632.5 211.1Z"/>
<path fill="#cdab63" stroke="#1c4a74" stroke-width="19" stroke-linejoin="miter" d="M1165.9 630.8A526 526 0 0 1 918.7 1086.1L936.7 1175.3L699.5 1124.4L836.2 920.1L867.3 1003.8A429 429 0 0 0 1068.9 632.5Z"/>
<path fill="#cdab63" stroke="#1c4a74" stroke-width="19" stroke-linejoin="miter" d="M649.2 1165.9A526 526 0 0 1 193.9 918.7L104.7 936.7L155.6 699.5L359.9 836.2L276.2 867.3A429 429 0 0 0 647.5 1068.9Z"/>
<circle cx="640" cy="640" r="250" fill="#cdab63" stroke="#1c4a74" stroke-width="22"/>
<text x="640" y="776" text-anchor="middle" font-size="392" font-weight="bold" fill="#1c4a74">$</text>
<path fill="none" stroke="#1c4a74" stroke-width="26" stroke-linecap="round" d="M1545 520V880M1545 860L1505 745M1545 860L1600 722"/>
<path fill="#cdab63" stroke="#1c4a74" stroke-width="24" stroke-linejoin="round" d="M1262 560C1400 535 1505 610 1505 745C1400 770 1290 690 1262 560Z"/>
<path fill="#cdab63" stroke="#1c4a74" stroke-width="24" stroke-linejoin="round" d="M1840 530C1700 520 1600 600 1600 722C1720 735 1825 650 1840 530Z"/>
<path fill="none" stroke="#1c4a74" stroke-width="18" stroke-linecap="round" d="M1380 650L1500 742M1720 622L1604 718"/>
<circle cx="1545" cy="335" r="182" fill="#cdab63" stroke="#1c4a74" stroke-width="22"/>
<text x="1545" y="432" text-anchor="middle" font-size="282" font-weight="bold" fill="#1c4a74">$</text>
<path fill="#fff" stroke="#1c4a74" stroke-width="26" stroke-linejoin="round" stroke-linecap="round" d="M1150 1098L1175 1080C1230 1040 1270 995 1320 985C1380 975 1430 1000 1480 1020L1660 1050C1700 1055 1720 1090 1690 1115L1760 1060C1790 1030 1830 960 1860 975C1900 1000 1870 1040 1840 1065L1640 1225C1600 1255 1540 1270 1500 1265L1270 1225L1245 1222"/>
<path fill="none" stroke="#1c4a74" stroke-width="24" stroke-linecap="round" d="M1412 1128L1640 1124C1690 1120 1712 1090 1692 1066"/>
<path fill="#cdab63" stroke="#1c4a74" stroke-width="22" stroke-linejoin="round" d="M1345 985C1360 940 1420 930 1440 920C1470 872 1530 868 1560 880C1600 880 1640 900 1650 930C1700 930 1740 960 1745 1000C1700 1045 1400 1045 1345 985Z"/>
<path fill="#1c4a74" stroke="#1c4a74" stroke-width="14" stroke-linejoin="round" d="M1008 1118L1110 1048L1268 1290L1170 1362Z"/>
<circle cx="1195" cy="1285" r="21" fill="#cdab63"/>
</g></svg>
<!-- card 6 icons: payouts -->
<svg class="layer" style="z-index:8" width="2752" height="1536" viewBox="0 0 2752 1536">
<g transform="translate(800 565) scale(0.14952)">
<rect x="778" y="73" width="434" height="384" rx="22" fill="#fff" stroke="#1c4a74" stroke-width="26"/>
<rect x="825" y="355" width="56" height="65" fill="#1c4a74"/>
<rect x="920" y="285" width="56" height="135" fill="#1c4a74"/>
<rect x="1015" y="320" width="56" height="100" fill="#1c4a74"/>
<rect x="1110" y="240" width="56" height="180" fill="#1c4a74"/>
<path fill="none" stroke="#cdab63" stroke-width="16" stroke-linejoin="miter" d="M830 312L940 195L1030 255L1140 140"/>
<path fill="#cdab63" d="M1170 110L1100 125L1158 180Z"/>
<path fill="none" stroke="#fff" stroke-width="110" stroke-linejoin="miter" d="M785 715L1020 480L1140 598L1420 315"/>
<path fill="#fff" stroke="#fff" stroke-width="36" stroke-linejoin="miter" d="M1555 175L1318 232L1502 412Z"/>
<path fill="none" stroke="#cdab63" stroke-width="76" stroke-linejoin="miter" d="M785 715L1020 480L1140 598L1420 315"/>
<path fill="#cdab63" d="M1555 175L1318 232L1502 412Z"/>
<circle cx="570" cy="330" r="98" fill="#cdab63" stroke="#1c4a74" stroke-width="22"/>
<text x="570" y="390" text-anchor="middle" font-size="172" font-weight="bold" fill="#1c4a74">$</text>
<circle cx="347" cy="490" r="102" fill="#cdab63" stroke="#1c4a74" stroke-width="22"/>
<text x="347" y="552" text-anchor="middle" font-size="178" font-weight="bold" fill="#1c4a74">$</text>
<circle cx="600" cy="635" r="118" fill="#cdab63" stroke="#1c4a74" stroke-width="22"/>
<text x="600" y="707" text-anchor="middle" font-size="205" font-weight="bold" fill="#1c4a74">$</text>
<path fill="#fff" stroke="#1c4a74" stroke-width="24" stroke-linejoin="round" stroke-linecap="round" d="M195 795C260 775 320 760 370 780C420 800 470 832 520 835L630 835C690 838 700 885 670 905L800 820C840 795 890 800 890 840C890 865 870 880 850 892L570 1055C540 1075 510 1082 480 1075L195 1000"/>
<path fill="none" stroke="#1c4a74" stroke-width="24" stroke-linecap="round" d="M402 927L630 927C660 925 682 905 672 885"/>
<rect x="60" y="745" width="135" height="315" rx="14" fill="#1c4a74"/>
<circle cx="127" cy="1000" r="17" fill="#cdab63"/>
<path fill="#1c4a74" stroke="#1c4a74" stroke-width="14" stroke-linejoin="round" d="M1372 762C1293 788 1250 801 1240 893H1595C1585 801 1542 788 1463 762L1418 856Z"/><path fill="#cdab63" d="M1402 774H1434L1428 802L1436 834L1418 856L1400 834L1408 802Z"/>
<ellipse cx="1420" cy="632" rx="74" ry="102" fill="#fff" stroke="#1c4a74" stroke-width="24"/>
<path fill="#1c4a74" d="M1340 600C1345 540 1380 518 1420 518C1460 518 1495 540 1500 600C1470 575 1380 570 1340 600Z"/>
<path fill="#1c4a74" stroke="#1c4a74" stroke-width="14" stroke-linejoin="round" d="M1018 1178C931 1216 880 1235 870 1368H1275C1265 1235 1214 1216 1126 1178L1072 1315Z"/><path fill="#1c4a74" d="M1056 1190H1088L1082 1218L1090 1282L1072 1315L1054 1282L1062 1218Z"/>
<ellipse cx="1075" cy="1045" rx="88" ry="118" fill="#fff" stroke="#1c4a74" stroke-width="26"/>
<path fill="#1c4a74" d="M980 1020C975 950 1020 905 1075 905C1130 905 1175 950 1170 1020C1140 975 1020 980 980 1020Z"/>
<path fill="#cdab63" stroke="#1c4a74" stroke-width="14" stroke-linejoin="round" d="M1375 1190L1300 1225V1368H1595C1590 1300 1580 1250 1560 1235C1530 1215 1490 1200 1465 1190L1420 1330Z"/>
<path fill="#1c4a74" d="M1418 950C1490 950 1522 1010 1522 1070C1522 1120 1530 1150 1535 1170C1500 1195 1340 1195 1305 1170C1312 1150 1318 1120 1318 1070C1318 1010 1350 950 1418 950Z"/>
<path fill="#fff" d="M1352 1075C1400 1065 1450 1040 1470 1010C1485 1035 1490 1060 1490 1085C1490 1140 1455 1178 1420 1178C1385 1178 1352 1140 1352 1075Z"/>
<path fill="#fff" d="M1388 1188H1455L1420 1290Z"/>
</g></svg>
</div>
</body>
</html>
